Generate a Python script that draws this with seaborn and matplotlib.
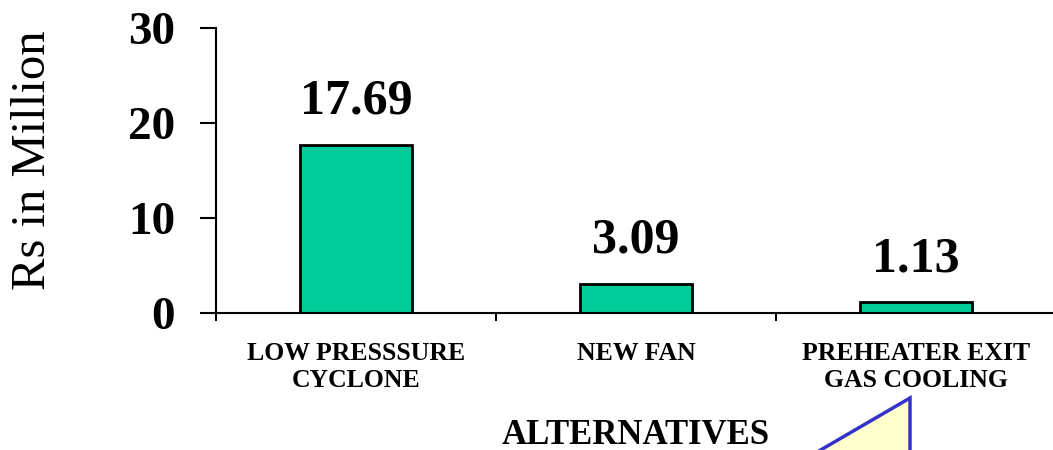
import matplotlib
matplotlib.use("Agg")
import matplotlib.pyplot as plt
from matplotlib.patches import Polygon
import seaborn as sns

categories = ["LOW PRESSSURE\nCYCLONE", "NEW FAN", "PREHEATER EXIT\nGAS COOLING"]
values = [17.69, 3.09, 1.13]
value_labels = ["17.69", "3.09", "1.13"]
y_ticks = [0, 10, 20, 30]

sns.set_theme(style="white")
plt.rcParams["font.family"] = ["Liberation Serif", "DejaVu Serif"]
plt.rcParams.update({"text.color": "black", "axes.labelcolor": "black",
                     "xtick.color": "black", "ytick.color": "black"})

W, H = 1053, 450
fig = plt.figure(figsize=(W / 100, H / 100), dpi=100)
ax = fig.add_axes([216 / W, (H - 313) / H, 840 / W, 285 / H])

sns.barplot(x=categories, y=values, color="#00CC99", saturation=1,
            edgecolor="black", linewidth=2, width=0.4, ax=ax)

ax.set_xlim(-0.5, 2.5)
ax.set_ylim(0, 30)
ax.set_yticks(y_ticks)
ax.set_yticklabels([str(t) for t in y_ticks], fontsize=34, fontweight="bold")

# category names under the bars, boundary ticks between categories
ax.set_xticks(range(len(categories)))
ax.set_xticklabels(categories, fontsize=18.5, fontweight="bold", linespacing=1.2)
ax.tick_params(axis="x", which="major", length=0, pad=21)
ax.set_xticks([-0.5, 0.5, 1.5, 2.5], minor=True)
ax.tick_params(axis="x", which="minor", length=6, width=1.5, color="black", bottom=True)
ax.tick_params(axis="y", length=11.5, width=1.5, color="black", pad=18, left=True)

for s in ["top", "right"]:
    ax.spines[s].set_visible(False)
for s in ["left", "bottom"]:
    ax.spines[s].set_color("black")
    ax.spines[s].set_linewidth(1.5)

for i, (v, lab) in enumerate(zip(values, value_labels)):
    ax.annotate(lab, (i, v), xytext=(0, 31), textcoords="offset points",
                ha="center", va="center", fontsize=36, fontweight="bold")

ax.set_ylabel("Rs in Million", fontsize=35)
ax.yaxis.set_label_coords((33 - 216) / 840, (313 - 160) / 285)
ax.yaxis.label.set_va("center")
ax.set_xlabel("ALTERNATIVES", fontsize=25, fontweight="bold")
ax.xaxis.set_label_coords(0.5, (313 - 435) / 285)
ax.xaxis.label.set_va("center")

# callout pointer at the lower edge
tri = Polygon([(910 / W, (H - 398) / H), (812 / W, (H - 455) / H), (910 / W, (H - 455) / H)],
              closed=True, transform=fig.transFigure, facecolor="#FFFFCC",
              edgecolor="#3333CC", linewidth=2.5, clip_on=False)
fig.patches.append(tri)

fig.savefig("out.png", dpi=100)
